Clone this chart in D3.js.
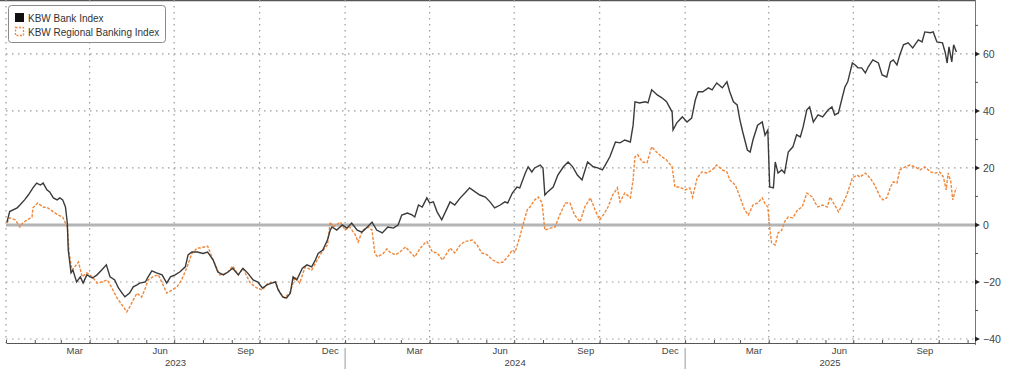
<!DOCTYPE html>
<html>
<head>
<meta charset="utf-8">
<script src="https://cdn.jsdelivr.net/npm/d3@7"></script>
<style>
  body { margin: 0; background: #fff; }
  svg { display: block; font-family: "Liberation Sans", Arial, sans-serif; }
</style>
</head>
<body>
<svg id="chart" width="1011" height="369"></svg>
<script>
// ---- data (percent change) ----
const bankDates = ["2023-01-02","2023-01-05","2023-01-13","2023-01-16","2023-01-21","2023-01-25","2023-01-30","2023-02-03","2023-02-07","2023-02-10","2023-02-14","2023-02-17","2023-02-21","2023-02-25","2023-02-28","2023-03-03","2023-03-06","2023-03-08","2023-03-09","2023-03-12","2023-03-14","2023-03-18","2023-03-22","2023-03-25","2023-03-29","2023-04-04","2023-04-09","2023-04-14","2023-04-19","2023-04-23","2023-04-28","2023-05-02","2023-05-06","2023-05-09","2023-05-14","2023-05-18","2023-05-22","2023-05-25","2023-05-31","2023-06-03","2023-06-07","2023-06-12","2023-06-18","2023-06-23","2023-06-27","2023-07-02","2023-07-07","2023-07-13","2023-07-16","2023-07-20","2023-07-26","2023-08-01","2023-08-06","2023-08-12","2023-08-17","2023-08-23","2023-08-28","2023-09-02","2023-09-08","2023-09-13","2023-09-18","2023-09-24","2023-09-29","2023-10-04","2023-10-09","2023-10-14","2023-10-18","2023-10-21","2023-10-26","2023-10-30","2023-11-03","2023-11-06","2023-11-10","2023-11-16","2023-11-21","2023-11-26","2023-11-30","2023-12-03","2023-12-08","2023-12-13","2023-12-16","2023-12-18","2023-12-23","2023-12-29","2024-01-03","2024-01-08","2024-01-14","2024-01-19","2024-01-25","2024-01-30","2024-02-04","2024-02-10","2024-02-16","2024-02-22","2024-02-27","2024-03-02","2024-03-08","2024-03-13","2024-03-16","2024-03-20","2024-03-24","2024-03-29","2024-04-01","2024-04-05","2024-04-09","2024-04-14","2024-04-20","2024-04-23","2024-04-28","2024-05-04","2024-05-09","2024-05-14","2024-05-20","2024-05-25","2024-05-31","2024-06-05","2024-06-10","2024-06-16","2024-06-21","2024-06-24","2024-06-29","2024-07-04","2024-07-07","2024-07-13","2024-07-16","2024-07-20","2024-07-23","2024-07-29","2024-08-01","2024-08-03","2024-08-06","2024-08-12","2024-08-17","2024-08-23","2024-08-28","2024-09-02","2024-09-07","2024-09-12","2024-09-18","2024-09-24","2024-09-29","2024-10-04","2024-10-07","2024-10-12","2024-10-18","2024-10-23","2024-10-28","2024-11-03","2024-11-06","2024-11-08","2024-11-13","2024-11-19","2024-11-22","2024-11-26","2024-12-02","2024-12-07","2024-12-12","2024-12-18","2024-12-19","2024-12-23","2024-12-29","2025-01-03","2025-01-08","2025-01-12","2025-01-15","2025-01-20","2025-01-26","2025-01-30","2025-02-04","2025-02-10","2025-02-15","2025-02-18","2025-02-22","2025-02-26","2025-03-01","2025-03-04","2025-03-09","2025-03-12","2025-03-15","2025-03-20","2025-03-25","2025-03-28","2025-03-31","2025-04-02","2025-04-06","2025-04-08","2025-04-11","2025-04-15","2025-04-18","2025-04-22","2025-04-27","2025-05-01","2025-05-05","2025-05-08","2025-05-12","2025-05-15","2025-05-19","2025-05-24","2025-05-29","2025-06-04","2025-06-08","2025-06-11","2025-06-15","2025-06-19","2025-06-22","2025-06-25","2025-06-30","2025-07-03","2025-07-06","2025-07-10","2025-07-14","2025-07-17","2025-07-22","2025-07-28","2025-08-01","2025-08-06","2025-08-10","2025-08-13","2025-08-17","2025-08-20","2025-08-24","2025-08-29","2025-09-03","2025-09-09","2025-09-13","2025-09-16","2025-09-22","2025-09-25","2025-09-29","2025-10-05","2025-10-08","2025-10-10","2025-10-12","2025-10-15","2025-10-17","2025-10-20"];
const bankValues = [1,4.7,6,7,8.8,10.5,13,14.7,14,14.7,12.3,11.6,9.5,8.8,9.5,8.8,6.3,0.7,-8.8,-16.8,-15.8,-20,-18.2,-20.4,-17.5,-18.6,-17.5,-15.8,-14,-18.2,-19.3,-22.1,-23.9,-25.2,-23.9,-21.7,-21,-20.4,-20,-18.2,-16.1,-16.8,-17.5,-20.4,-18.2,-17.5,-16.5,-14.7,-10.5,-9.5,-9.5,-10,-9.5,-12.3,-16.5,-17.5,-16.5,-15.2,-17.5,-15.2,-16.8,-19.3,-20,-22.1,-21,-20.4,-20,-22.8,-25.3,-25.6,-23.9,-18.2,-19.3,-15.2,-14,-14.7,-12.3,-10,-8.8,-5.3,-1.8,-0.7,-1.8,0,-1.1,0.7,-1.8,-2.5,-0.7,1,-1.8,-2.8,-0.7,-1.1,0,3.5,4.2,3.5,2.8,7,6.3,9.5,7.7,8.1,4.6,1.8,6,8.1,7,9.5,11.2,13,11.6,10.5,9.8,8.1,6,7,8.1,7.7,11.2,13.3,13,18.2,20.4,18.6,20,21,20,10.5,11.6,13.3,17.5,20.4,22.1,20.4,17.5,15.8,22.1,20.4,20,19.3,21,23.9,29.1,28.8,29.8,29.1,35,43.2,42.8,43.2,42.8,47.4,45.6,44.6,43.2,39.6,33.3,35.8,37.9,36.1,37.5,43.9,46.7,46.7,48.1,47.4,49.8,48.1,50.2,46.7,43.2,42.1,36.8,32.6,26.3,25.6,29.8,35,36.1,31.5,33.3,13.3,13,22.1,18.2,19.3,18.2,25.6,27.4,31.6,30.9,34.4,40.4,41.4,36.1,38.6,37.9,40.4,41.4,38.6,39.3,44.6,48.4,50.2,56.8,56.1,55.1,55.1,53.3,55.4,57.9,56.8,52.6,51.9,57.2,57.9,56.1,59.6,63.2,63.9,62.1,64.9,64.2,67.7,67.4,67.7,64.2,63.9,60.4,56.8,62.5,57.2,63.2,60.7];

const regionalDates = ["2023-01-02","2023-01-05","2023-01-11","2023-01-16","2023-01-19","2023-01-24","2023-01-29","2023-01-30","2023-02-04","2023-02-10","2023-02-15","2023-02-21","2023-02-26","2023-03-03","2023-03-08","2023-03-10","2023-03-13","2023-03-16","2023-03-20","2023-03-24","2023-03-29","2023-04-04","2023-04-09","2023-04-14","2023-04-20","2023-04-25","2023-04-30","2023-05-06","2023-05-11","2023-05-14","2023-05-18","2023-05-22","2023-05-27","2023-05-31","2023-06-03","2023-06-08","2023-06-14","2023-06-19","2023-06-23","2023-06-29","2023-07-04","2023-07-09","2023-07-15","2023-07-20","2023-07-26","2023-07-29","2023-08-06","2023-08-12","2023-08-19","2023-08-27","2023-09-02","2023-09-08","2023-09-13","2023-09-21","2023-09-28","2023-10-04","2023-10-10","2023-10-18","2023-10-23","2023-10-28","2023-11-03","2023-11-08","2023-11-13","2023-11-19","2023-11-26","2023-12-02","2023-12-07","2023-12-13","2023-12-16","2023-12-19","2023-12-27","2024-01-01","2024-01-06","2024-01-12","2024-01-15","2024-01-20","2024-01-26","2024-01-30","2024-02-02","2024-02-05","2024-02-11","2024-02-15","2024-02-18","2024-02-24","2024-02-29","2024-03-06","2024-03-11","2024-03-16","2024-03-22","2024-03-27","2024-03-29","2024-04-04","2024-04-09","2024-04-15","2024-04-23","2024-04-28","2024-05-04","2024-05-09","2024-05-17","2024-05-22","2024-05-27","2024-06-02","2024-06-08","2024-06-14","2024-06-19","2024-06-24","2024-06-29","2024-07-02","2024-07-07","2024-07-11","2024-07-15","2024-07-18","2024-07-23","2024-07-27","2024-07-31","2024-08-03","2024-08-09","2024-08-14","2024-08-19","2024-08-25","2024-08-30","2024-09-04","2024-09-10","2024-09-15","2024-09-21","2024-09-26","2024-10-01","2024-10-05","2024-10-10","2024-10-15","2024-10-20","2024-10-23","2024-10-28","2024-11-03","2024-11-06","2024-11-08","2024-11-11","2024-11-16","2024-11-21","2024-11-26","2024-12-02","2024-12-07","2024-12-12","2024-12-18","2024-12-21","2024-12-26","2025-01-01","2025-01-06","2025-01-09","2025-01-14","2025-01-19","2025-01-25","2025-01-30","2025-02-04","2025-02-10","2025-02-15","2025-02-18","2025-02-24","2025-03-01","2025-03-06","2025-03-10","2025-03-15","2025-03-20","2025-03-25","2025-03-28","2025-03-31","2025-04-02","2025-04-04","2025-04-08","2025-04-11","2025-04-15","2025-04-18","2025-04-22","2025-04-27","2025-05-02","2025-05-07","2025-05-12","2025-05-18","2025-05-21","2025-05-24","2025-05-29","2025-06-03","2025-06-06","2025-06-11","2025-06-15","2025-06-19","2025-06-24","2025-06-30","2025-07-05","2025-07-08","2025-07-14","2025-07-19","2025-07-24","2025-07-30","2025-08-02","2025-08-06","2025-08-10","2025-08-13","2025-08-17","2025-08-20","2025-08-26","2025-08-31","2025-09-05","2025-09-11","2025-09-16","2025-09-22","2025-09-27","2025-10-02","2025-10-06","2025-10-09","2025-10-11","2025-10-14","2025-10-16","2025-10-19","2025-10-20"];
const regionalValues = [0.7,2.5,1.8,-0.7,0.7,1.8,2.8,6,7.7,6.3,6,4.6,3.5,2.8,-0.7,-10,-15.8,-14.7,-13,-18.2,-16.8,-18.2,-20.4,-20,-19.3,-22.1,-25.3,-28.1,-30.5,-28.8,-26.3,-23.9,-25.3,-22.1,-19.3,-18.2,-17.5,-21,-23.9,-22.8,-21.7,-19.3,-14.7,-10,-8.1,-8.1,-7.4,-12.3,-17.5,-16.8,-14.4,-17.5,-15.2,-20.4,-22.1,-22.8,-20.4,-20,-23.9,-25.6,-23.5,-18.2,-20.4,-14.7,-15.8,-12.3,-9.5,-7,1,-0.7,1,-1.8,-0.7,-3.5,-6,-1.8,-0.7,-1.8,-10,-11.2,-10,-8.4,-9.5,-10.5,-9.5,-7.7,-9.5,-11.2,-8.1,-6.3,-5.8,-9.5,-9.8,-12.3,-8.1,-9.8,-7,-5.8,-5.3,-7,-9.8,-10.5,-12.3,-13.3,-13,-11.2,-8.8,-9.5,-4.2,0.7,5.3,6.3,8.8,9.8,7.7,-1.8,-1.1,-0.7,3.5,7.7,7.7,3.5,1.1,6.3,9.5,5.3,1.8,3.5,6.3,10.5,13,8.1,11.2,9.5,15.8,23.9,24.6,22.1,21.8,27.4,25.3,23.9,22.8,20.4,13.3,13.3,12.3,13,9.8,16.5,18.6,18.2,19.3,21,19.3,18.6,15.8,14,9.8,5.3,3.5,7,7.7,9.5,7.5,6.3,-0.7,-6.3,-7,-2.8,-1.8,1.1,2.8,2.5,5.3,6.3,11.2,9.8,7.7,6.3,7,6.3,9.8,7,4.6,7,10.5,16.5,17.5,16.8,18.2,16.5,14,9.8,8.8,9.5,13.3,15.1,14.7,19.3,20.4,21,20.4,19.3,20.4,18.6,18.2,18.6,16.8,12.3,18.2,15.1,8.8,12.3,13];

const seriesNames = ["KBW Bank Index", "KBW Regional Banking Index"];
const yMajorTicks = [-40, -20, 0, 20, 40, 60];
const yMinorTicks = [-30, -10, 10, 30, 50, 70];
const monthLabels = ["Mar", "Jun", "Sep", "Dec"];
const years = [2023, 2024, 2025];

// ---- layout ----
const plotLeft = 6, plotRight = 975, plotTop = 0, plotBottom = 343;
const parse = d3.timeParse("%Y-%m-%d");
const startDate = parse("2023-01-01"), endDate = parse("2025-11-09");

const x = d3.scaleTime().domain([startDate, endDate]).range([plotLeft, plotRight]);
const y = d3.scaleLinear().domain([-41.4, 78.9]).range([plotBottom, plotTop]);

const svg = d3.select("#chart");

// top border
svg.append("line")
    .attr("x1", 0).attr("x2", plotRight)
    .attr("y1", 0.5).attr("y2", 0.5)
    .attr("stroke", "#555").attr("stroke-width", 1.5);

// vertical dotted grid at quarter starts
const quarters = d3.timeMonth.every(3).range(startDate, endDate);
svg.append("g").selectAll("line")
    .data(quarters)
    .enter().append("line")
    .attr("x1", d => x(d)).attr("x2", d => x(d))
    .attr("y1", plotTop).attr("y2", plotBottom)
    .attr("stroke", "#9a9a9a").attr("stroke-width", 1.2)
    .attr("stroke-dasharray", "1.5,4.5");

// horizontal dotted grid
svg.append("g").selectAll("line")
    .data(yMajorTicks.filter(d => d !== 0))
    .enter().append("line")
    .attr("x1", plotLeft).attr("x2", plotRight)
    .attr("y1", d => y(d)).attr("y2", d => y(d))
    .attr("stroke", "#9a9a9a").attr("stroke-width", 1.2)
    .attr("stroke-dasharray", "1.5,4.5");

// zero line
svg.append("line")
    .attr("x1", plotLeft).attr("x2", plotRight)
    .attr("y1", y(0)).attr("y2", y(0))
    .attr("stroke", "#b4b4b4").attr("stroke-width", 3);

// lines
const bankData = bankDates.map((d, i) => ({date: parse(d), value: bankValues[i]}));
const regionalData = regionalDates.map((d, i) => ({date: parse(d), value: regionalValues[i]}));

const line = d3.line()
    .x(d => x(d.date))
    .y(d => y(d.value));

svg.append("path")
    .datum(regionalData)
    .attr("d", line)
    .attr("fill", "none")
    .attr("stroke", "#f0873a")
    .attr("stroke-width", 1.4)
    .attr("stroke-dasharray", "3,1.5");

svg.append("path")
    .datum(bankData)
    .attr("d", line)
    .attr("fill", "none")
    .attr("stroke", "#3a3a3a")
    .attr("stroke-width", 1.4);

// right axis
const yAxis = svg.append("g")
    .attr("transform", "translate(" + plotRight + ",0)")
    .call(d3.axisRight(y).tickValues(yMajorTicks).tickSize(0).tickPadding(8));
yAxis.select(".domain").remove();
yAxis.selectAll("text")
    .attr("fill", "#444")
    .style("font-size", "10.5px");

svg.append("line")
    .attr("x1", plotRight + 0.5).attr("x2", plotRight + 0.5)
    .attr("y1", 0).attr("y2", plotBottom + 2)
    .attr("stroke", "#777").attr("stroke-width", 1);

svg.append("g").selectAll("path")
    .data(yMajorTicks)
    .enter().append("path")
    .attr("d", d => "M" + plotRight + "," + (y(d) - 2.5) + "L" + (plotRight + 5) + "," + y(d) + "L" + plotRight + "," + (y(d) + 2.5) + "Z")
    .attr("fill", "#222");

svg.append("g").selectAll("line")
    .data(yMinorTicks)
    .enter().append("line")
    .attr("x1", plotRight).attr("x2", plotRight + 3)
    .attr("y1", d => y(d)).attr("y2", d => y(d))
    .attr("stroke", "#555");

// bottom axis with monthly ticks
const xAxis = svg.append("g")
    .attr("transform", "translate(0," + plotBottom + ")")
    .call(d3.axisBottom(x)
        .tickValues(d3.timeMonth.range(startDate, endDate))
        .tickSize(-3)
        .tickSizeOuter(0)
        .tickFormat(""));
xAxis.select(".domain").attr("stroke", "#555");
xAxis.selectAll(".tick line").attr("stroke", "#555");

// month labels centred in their month
const monthIdx = {Mar: 2, Jun: 5, Sep: 8, Dec: 11};
const labelDates = [];
years.forEach(yr => monthLabels.forEach(m => {
    const d = new Date(yr, monthIdx[m], 16);
    if (d < endDate) labelDates.push({date: d, text: m});
}));
svg.append("g").selectAll("text")
    .data(labelDates)
    .enter().append("text")
    .attr("x", d => x(d.date))
    .attr("y", 354)
    .attr("text-anchor", "middle")
    .attr("fill", "#444")
    .style("font-size", "9.5px")
    .text(d => d.text);

// year labels and separators
svg.append("g").selectAll("text")
    .data(years)
    .enter().append("text")
    .attr("x", d => {
        const a = x(Math.max(startDate, new Date(d, 0, 1)));
        const b = x(Math.min(endDate, new Date(d + 1, 0, 1)));
        return (a + b) / 2;
    })
    .attr("y", 366)
    .attr("text-anchor", "middle")
    .attr("fill", "#444")
    .style("font-size", "9.5px")
    .text(d => d);

svg.append("g").selectAll("line")
    .data(years.slice(1))
    .enter().append("line")
    .attr("x1", d => x(new Date(d, 0, 1))).attr("x2", d => x(new Date(d, 0, 1)))
    .attr("y1", plotBottom + 5).attr("y2", 369)
    .attr("stroke", "#999");

// legend
const legend = svg.append("g");
legend.append("rect")
    .attr("x", 8.5).attr("y", 5.5)
    .attr("width", 157).attr("height", 37)
    .attr("rx", 3)
    .attr("fill", "#fff")
    .attr("stroke", "#8a8a8a");
legend.append("rect")
    .attr("x", 15).attr("y", 13)
    .attr("width", 9).attr("height", 9)
    .attr("fill", "#111");
legend.append("rect")
    .attr("x", 15.5).attr("y", 27.5)
    .attr("width", 8).attr("height", 8)
    .attr("fill", "none")
    .attr("stroke", "#f0873a")
    .attr("stroke-width", 1.3)
    .attr("stroke-dasharray", "2,1.5");
legend.selectAll("text")
    .data(seriesNames)
    .enter().append("text")
    .attr("x", 28)
    .attr("y", (d, i) => 21.5 + i * 14)
    .attr("fill", "#333")
    .style("font-size", "10px")
    .text(d => d);
</script>
</body>
</html>
